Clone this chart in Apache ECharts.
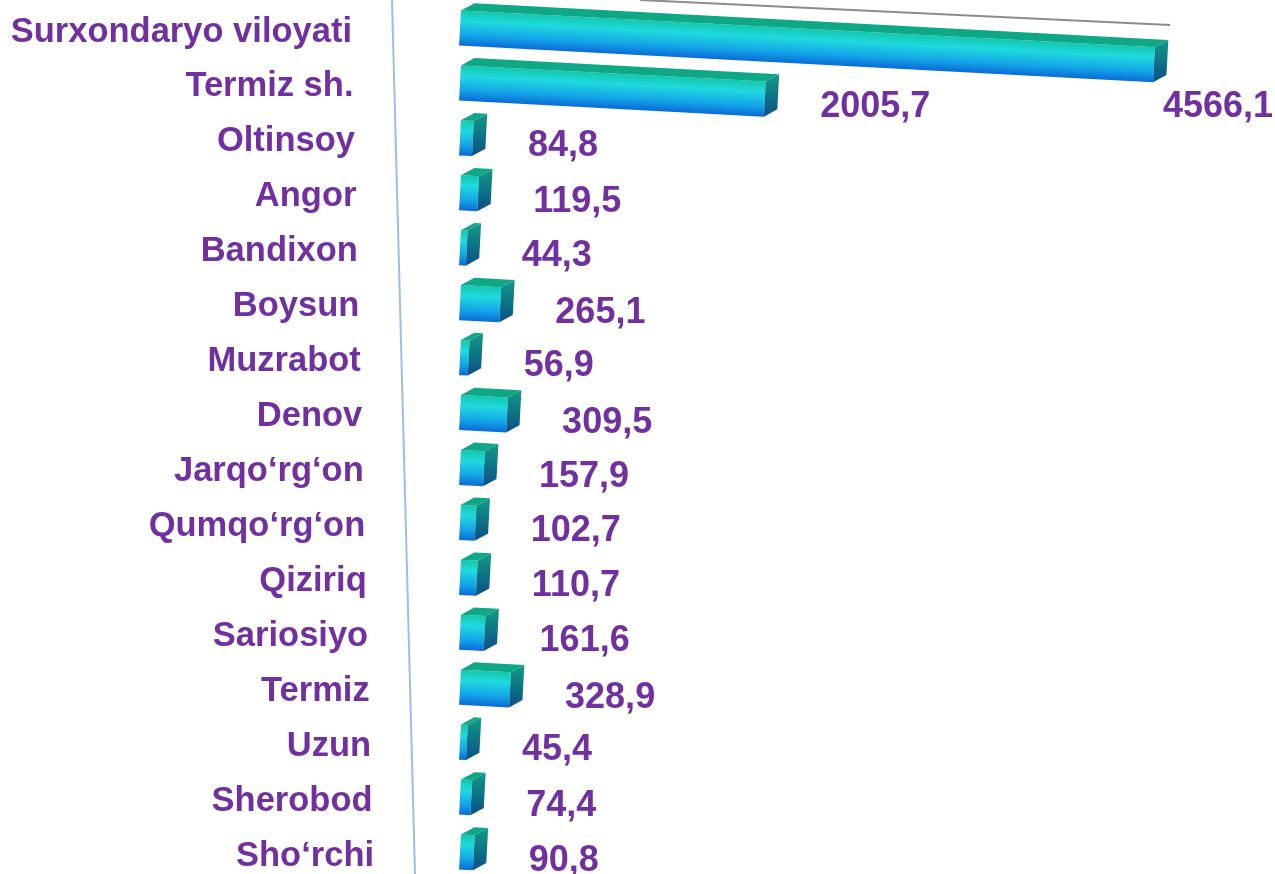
<!doctype html>
<html>
<head>
<meta charset="utf-8">
<script src="https://cdn.jsdelivr.net/npm/echarts@6/dist/echarts.min.js"></script>
<style>
html, body { margin: 0; padding: 0; background: #fff; }
#main { width: 1275px; height: 874px; }
</style>
</head>
<body>
<div id="main"></div>
<script type="text/javascript">
var districts = ['Surxondaryo viloyati', 'Termiz sh.', 'Oltinsoy', 'Angor', 'Bandixon', 'Boysun', 'Muzrabot', 'Denov',
    'Jarqo\u2018rg\u2018on', 'Qumqo\u2018rg\u2018on', 'Qiziriq', 'Sariosiyo', 'Termiz', 'Uzun', 'Sherobod', 'Sho\u2018rchi'];
var values = [4566.1, 2005.7, 84.8, 119.5, 44.3, 265.1, 56.9, 309.5, 157.9, 102.7, 110.7, 161.6, 328.9, 45.4, 74.4, 90.8];

var purple = '#7030a0';
var font = '"Liberation Sans", Arial, sans-serif';
var slope = 0.053;   // perspective tilt of the bars
var depthX = 13, depthY = 8;

var myChart = echarts.init(document.getElementById('main'));

// labels shift right a bit going down (tilted axis)
var rich = {};
for (var i = 0; i < districts.length; i++) {
    rich['r' + i] = {
        fontSize: 34.5, fontWeight: 'bold', color: purple, fontFamily: font,
        padding: [0, 22 - 1.47 * i, 0, 0]
    };
}

function fmt(v) {
    return v.toFixed(1).replace('.', ',');
}

var data = values.map(function (v, i) { return [v, i]; });

function renderBar(params, api) {
    var v = api.value(0), idx = api.value(1);
    var p0 = api.coord([0, idx]);
    var p1 = api.coord([v, idx]);
    var h = api.size([0, 1])[1] * 0.64;
    var x0 = p0[0], x1 = p1[0], cy = p0[1] - 4;
    var top = cy - h / 2, bot = cy + h / 2;
    var ang = Math.atan(slope);

    var front = {
        type: 'rect',
        shape: { x: x0, y: top, width: x1 - x0, height: h },
        style: {
            fill: new echarts.graphic.LinearGradient(0, 0, 0, 1, [
                { offset: 0, color: '#14c7ad' },
                { offset: 0.3, color: '#1fdade' },
                { offset: 0.7, color: '#14a4e8' },
                { offset: 1, color: '#0a6ad6' }
            ])
        }
    };
    var topFace = {
        type: 'polygon',
        shape: { points: [[x0, top], [x1, top], [x1 + depthX, top - depthY], [x0 + depthX, top - depthY]] },
        style: { fill: '#0ea886' }
    };
    var side = {
        type: 'polygon',
        shape: { points: [[x1, top], [x1 + depthX, top - depthY], [x1 + depthX, bot - depthY], [x1, bot]] },
        style: {
            fill: new echarts.graphic.LinearGradient(0, 0, 0, 1, [
                { offset: 0, color: '#129a86' },
                { offset: 1, color: '#0a4f86' }
            ])
        }
    };

    var endX = x1 + depthX;
    var endY = cy + slope * (x1 - x0);
    var tx = endX + 42, ty = endY + 8;
    var maxX = api.getWidth() - 112;
    if (tx > maxX) {
        tx = maxX;
        ty = endY + 42;
    }

    return {
        type: 'group',
        children: [
            {
                type: 'group',
                originX: x0, originY: cy,
                rotation: -ang,
                children: [front, topFace, side]
            },
            {
                type: 'text',
                style: {
                    x: tx, y: ty, text: fmt(v),
                    fill: purple, fontSize: 36, fontWeight: 'bold', fontFamily: font,
                    align: 'left', verticalAlign: 'middle'
                }
            }
        ]
    };
}

var option = {
    animation: false,
    backgroundColor: '#ffffff',
    grid: { left: 460, top: 32, width: 761, bottom: 18 },
    xAxis: {
        type: 'value', min: 0, max: 5000,
        show: false
    },
    yAxis: {
        type: 'category',
        inverse: true,
        boundaryGap: false,
        data: districts,
        axisLine: { show: false },
        axisTick: { show: false },
        splitLine: { show: false },
        axisLabel: {
            margin: 86,
            formatter: function (v, i) { return '{r' + i + '|' + v + '}'; },
            rich: rich
        }
    },
    graphic: [
        // tilted value axis line
        { type: 'line', shape: { x1: 392, y1: 0, x2: 415, y2: 874 }, style: { stroke: '#9dbde6', lineWidth: 2 }, z: 1 },
        // top back edge of the plot
        { type: 'line', shape: { x1: 640, y1: 0, x2: 1170, y2: 25 }, style: { stroke: '#8c8c8c', lineWidth: 2 }, z: 1 }
    ],
    series: [{
        type: 'custom',
        renderItem: renderBar,
        encode: { x: 0, y: 1 },
        data: data,
        clip: false
    }]
};

myChart.setOption(option);
</script>
</body>
</html>
